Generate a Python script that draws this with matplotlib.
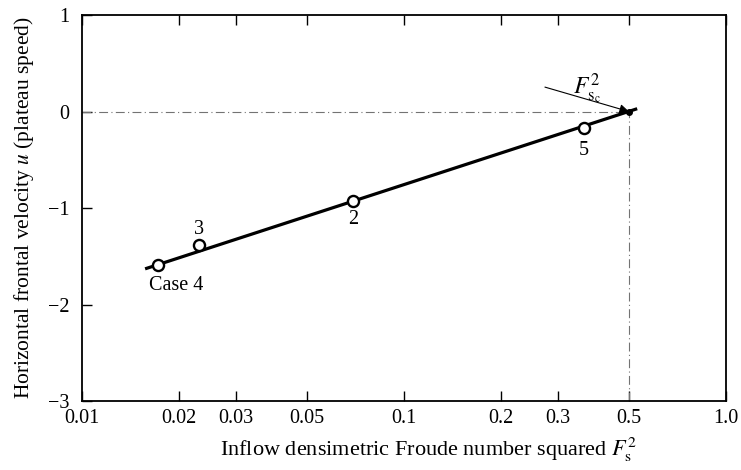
import matplotlib.pyplot as plt
from matplotlib.ticker import FixedLocator, FixedFormatter, NullLocator

# Measured cases: inflow densimetric Froude number squared vs plateau front speed
cases = ['Case 4', '3', '2', '5']
froude_sq = [0.0172, 0.0231, 0.0695, 0.362]
front_u = [-1.59, -1.38, -0.93, -0.17]

# Fitted straight line (in log F^2) and the critical point where u = 0
fit_x = [0.0157, 0.53]
fit_u = [-1.63, 0.03]
crit_x = 0.5
crit_u = 0.0

xticks = [0.01, 0.02, 0.03, 0.05, 0.1, 0.2, 0.3, 0.5, 1.0]
xtick_labels = ['0.01', '0.02', '0.03', '0.05', '0.1', '0.2', '0.3', '0.5', '1.0']
yticks = [-3, -2, -1, 0, 1]

# label offsets in points for each case
label_offsets = [(13, -15), (0, 11), (0, -13), (0, -16)]

plt.rcParams['font.family'] = ['Liberation Serif', 'DejaVu Serif']
plt.rcParams['mathtext.fontset'] = 'stix'

fig = plt.figure(figsize=(7.41, 4.70), dpi=100)
ax = fig.add_axes([0.1107, 0.1468, 0.869, 0.821])

ax.set_xscale('log')
ax.set_xlim(0.01, 1.0)
ax.set_ylim(-3, 1)

# reference lines through the critical point
ax.plot([0.01, crit_x], [crit_u, crit_u], color='0.45', lw=0.8, ls=(0, (8, 3, 1, 3)))
ax.plot([crit_x, crit_x], [-3, crit_u], color='0.45', lw=0.8, ls=(0, (8, 3, 1, 3)))

ax.plot(fit_x, fit_u, color='black', lw=2.3, solid_capstyle='butt')
ax.plot(froude_sq, front_u, 'o', ms=8, mfc='white', mec='black', mew=1.7)
ax.plot([crit_x], [crit_u], 'o', ms=4, color='black')

for name, x, u, off in zip(cases, froude_sq, front_u, label_offsets):
    ax.annotate(name, (x, u), xytext=off, textcoords='offset points',
                ha='center', va='center', fontsize=14.5)

ax.annotate('', xy=(crit_x, crit_u), xytext=(0.274, 0.254),
            arrowprops=dict(arrowstyle='-|>', color='black', lw=0.8,
                            mutation_scale=14, shrinkA=0, shrinkB=0))
ax.text(0.335, 0.24, r'$F_{\rm s_c}^{2}$', fontsize=17, va='center', ha='left')

ax.xaxis.set_major_locator(FixedLocator(xticks))
ax.xaxis.set_major_formatter(FixedFormatter(xtick_labels))
ax.xaxis.set_minor_locator(NullLocator())
ax.set_yticks(yticks)
ax.set_yticklabels(['\u22123', '\u22122', '\u22121', '0', '1'])
ax.tick_params(axis='x', which='major', direction='in', top=True, length=7,
               width=1.0, labelsize=14.5, pad=6)
ax.tick_params(axis='y', which='major', direction='in', length=7,
               width=1.0, labelsize=14.5, pad=9)

for sp in ax.spines.values():
    sp.set_linewidth(1.3)

ax.set_xlabel(r'Inflow densimetric Froude number squared $F_{\rm s}^{2}$',
              fontsize=16, labelpad=6)
ax.xaxis.set_label_coords(0.537, -0.09)
ax.set_ylabel(r'Horizontal frontal velocity $u$ (plateau speed)',
              fontsize=15.5, labelpad=9)

fig.savefig('out.png', dpi=100)
